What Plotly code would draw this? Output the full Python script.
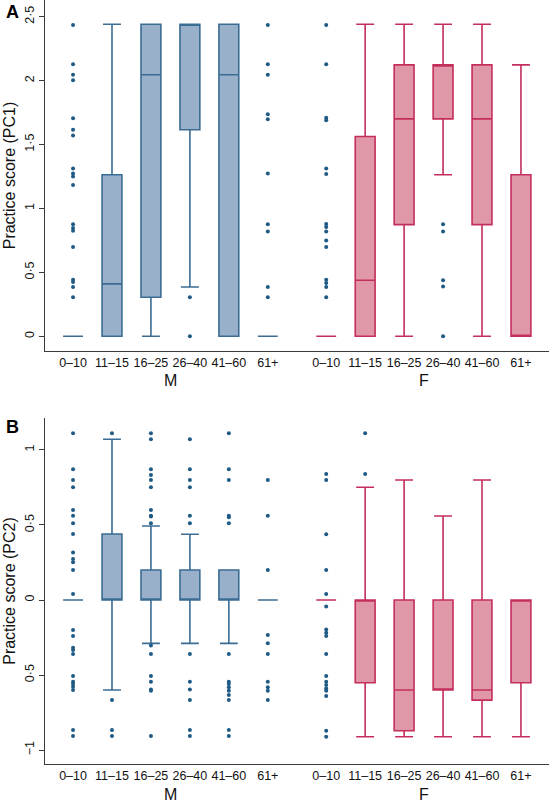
import plotly.graph_objects as go

# ---------------- data ----------------
age_groups = ["0–10", "11–15", "16–25", "26–40", "41–60", "61+"]
sexes = ["M", "F"]
pos_M = [1, 2, 3, 4, 5, 6]
pos_F = [7.5, 8.5, 9.5, 10.5, 11.5, 12.5]

# Panel A: PC1
pc1_M_q1 = [0, 0, 0.305, 1.615, 0, 0]
pc1_M_med = [0, 0.41, 2.045, 2.44, 2.045, 0]
pc1_M_q3 = [0, 1.263, 2.44, 2.44, 2.44, 0]
pc1_M_lo = [0, 0, 0, 0.386, 0, 0]
pc1_M_hi = [0, 2.44, 2.44, 2.44, 2.44, 0]

pc1_F_q1 = [0, 0, 0.873, 1.70, 0.873, 0]
pc1_F_med = [0, 0.438, 1.70, 2.123, 1.70, 0]
pc1_F_q3 = [0, 1.563, 2.123, 2.123, 2.123, 1.263]
pc1_F_lo = [0, 0, 0, 1.263, 0, 0]
pc1_F_hi = [0, 2.44, 2.44, 2.44, 2.44, 2.123]

pc1_M_out = [
    [2.435, 2.128, 2.045, 2.003, 1.706, 1.615, 1.570, 1.313, 1.274, 1.25, 1.183,
     0.877, 0.847, 0.826, 0.698, 0.443, 0.425, 0.386, 0.305],
    [], [], [0.305, 0.0], [],
    [2.435, 2.128, 2.045, 1.737, 1.698, 1.274, 0.877, 0.82, 0.386, 0.305],
]
pc1_F_out = [
    [2.435, 2.128, 1.71, 1.69, 1.313, 1.27, 0.879, 0.854, 0.82, 0.75, 0.698,
     0.443, 0.417, 0.386, 0.305],
    [], [], [0.877, 0.82, 0.438, 0.39, 0.0], [], [],
]

# Panel B: PC2
pc2_M_q1 = [0, 0, 0, 0, 0, 0]
pc2_M_med = [0, 0, 0, 0, 0, 0]
pc2_M_q3 = [0, 0.44, 0.20, 0.20, 0.20, 0]
pc2_M_lo = [0, -0.60, -0.289, -0.289, -0.289, 0]
pc2_M_hi = [0, 1.071, 0.493, 0.438, 0.20, 0]

pc2_F_q1 = [0, -0.551, -0.871, -0.60, -0.667, -0.551]
pc2_F_med = [0, 0, -0.60, -0.60, -0.60, 0]
pc2_F_q3 = [0, 0, 0, 0, 0, 0]
pc2_F_lo = [0, -0.911, -0.911, -0.911, -0.911, -0.911]
pc2_F_hi = [0, 0.751, 0.80, 0.56, 0.80, 0]

pc2_M_out = [
    [1.111, 0.871, 0.80, 0.751, 0.60, 0.562, 0.511, 0.44, 0.316, 0.273, 0.251, 0.20, 0.04,
     -0.20, -0.24, -0.318, -0.333, -0.36, -0.507, -0.544, -0.56, -0.578, -0.60, -0.867, -0.907],
    [1.111, -0.667, -0.867, -0.907],
    [1.111, 1.071, 0.871, 0.833, 0.80, 0.751, 0.60, 0.562, 0.556, 0.511,
     -0.304, -0.36, -0.507, -0.544, -0.596, -0.604, -0.907],
    [1.071, 0.871, 0.80, 0.751, 0.562, 0.511,
     -0.36, -0.544, -0.596, -0.667, -0.867, -0.907],
    [1.111, 0.871, 0.80, 0.562, 0.551, 0.511,
     -0.36, -0.544, -0.56, -0.582, -0.604, -0.633, -0.667, -0.867, -0.907],
    [0.80, 0.562, 0.20, -0.233, -0.289, -0.36, -0.544, -0.582, -0.604, -0.667],
]
pc2_F_out = [
    [0.84, 0.80, 0.438, 0.20, 0.04, -0.044, -0.196, -0.218, -0.24, -0.36,
     -0.507, -0.544, -0.567, -0.589, -0.604, -0.64, -0.871, -0.911],
    [1.111, 0.84], [], [], [], [],
]

pc1_ticks = [0, 0.5, 1, 1.5, 2, 2.5]
pc1_ticktext = ["0", "0·5", "1", "1·5", "2", "2·5"]
pc2_ticks = [-1, -0.5, 0, 0.5, 1]
pc2_ticktext = ["−1", "0·5", "0", "0·5", "1"]

# ---------------- styles ----------------
M_FILL, M_LINE = "#99b0cb", "#3b6c93"
F_FILL, F_LINE = "#e098a9", "#c42e5c"
DOT = "#1f5a85"
AX = "#3a3a3a"
FONT = "Liberation Sans, Arial, sans-serif"

fig = go.Figure()


def add_panel(xa, ya, M, F, outM, outF):
    for pos, st, fill, line in ((pos_M, M, M_FILL, M_LINE), (pos_F, F, F_FILL, F_LINE)):
        q1, med, q3, lo, hi = st
        fig.add_trace(go.Box(
            x=pos, q1=q1, median=med, q3=q3, lowerfence=lo, upperfence=hi,
            boxpoints=False, fillcolor=fill, line=dict(color=line, width=1.6),
            width=0.51, whiskerwidth=0.9, xaxis=xa, yaxis=ya, showlegend=False,
            hoverinfo="skip"))
    xs, ys = [], []
    for pos, outs in ((pos_M, outM), (pos_F, outF)):
        for p, vals in zip(pos, outs):
            xs += [p] * len(vals)
            ys += vals
    fig.add_trace(go.Scatter(x=xs, y=ys, mode="markers", xaxis=xa, yaxis=ya,
                             marker=dict(color=DOT, size=4), showlegend=False,
                             hoverinfo="skip"))


add_panel("x", "y",
          (pc1_M_q1, pc1_M_med, pc1_M_q3, pc1_M_lo, pc1_M_hi),
          (pc1_F_q1, pc1_F_med, pc1_F_q3, pc1_F_lo, pc1_F_hi),
          pc1_M_out, pc1_F_out)
add_panel("x2", "y2",
          (pc2_M_q1, pc2_M_med, pc2_M_q3, pc2_M_lo, pc2_M_hi),
          (pc2_F_q1, pc2_F_med, pc2_F_q3, pc2_F_lo, pc2_F_hi),
          pc2_M_out, pc2_F_out)

H = 805.0
W = 550.0
L, R = 45, 1
PW = W - L - R
xcommon = dict(range=[0.28, 13.22], tickvals=pos_M + pos_F, ticktext=age_groups * 2,
               showline=True, linecolor=AX, linewidth=1.2, ticks="", showgrid=False,
               zeroline=False, tickfont=dict(size=12.5, color="#111"), fixedrange=True)
ycommon = dict(showline=True, linecolor=AX, linewidth=1.2, ticks="outside", ticklen=5,
               tickcolor=AX, showgrid=False, zeroline=False, tickangle=-90,
               tickfont=dict(size=12.5, color="#111"), fixedrange=True)

fig.update_layout(
    width=550, height=805,
    margin=dict(l=L, r=R, t=0, b=0),
    paper_bgcolor="white", plot_bgcolor="white",
    font=dict(family=FONT, color="#111"),
    boxmode="overlay",
    xaxis=dict(**xcommon, anchor="y"),
    yaxis=dict(**ycommon, domain=[1 - 351 / H, 1], range=[-0.115, 2.63],
               tickvals=pc1_ticks, ticktext=pc1_ticktext, anchor="x",
               title=dict(text="Practice score (PC1)", font=dict(size=16), standoff=3)),
    xaxis2=dict(**xcommon, anchor="y2"),
    yaxis2=dict(**ycommon, domain=[1 - 764 / H, 1 - 418 / H], range=[-1.093, 1.213],
                tickvals=pc2_ticks, ticktext=pc2_ticktext, anchor="x2",
                title=dict(text="Practice score (PC2)", font=dict(size=16), standoff=3)),
)

annots = [
    dict(text="<b>A</b>", x=(12 - L) / PW, y=1 - 12 / H),
    dict(text="<b>B</b>", x=(12 - L) / PW, y=1 - 427 / H),
]
for a in annots:
    fig.add_annotation(xref="paper", yref="paper", showarrow=False,
                       font=dict(size=18, color="#000"), xanchor="center", yanchor="middle", **a)

for xa, ypx in (("x", 380), ("x2", 794)):
    for s, xc in zip(sexes, [(pos_M[0] + pos_M[-1]) / 2, (pos_F[0] + pos_F[-1]) / 2]):
        fig.add_annotation(xref=xa, yref="paper", x=xc, y=1 - ypx / H, text=s,
                           showarrow=False, font=dict(size=16, color="#111"),
                           xanchor="center", yanchor="middle")

fig.write_html("out.html", config={"displayModeBar": False, "staticPlot": True},
               post_script="document.body.style.margin='0';document.body.style.overflow='hidden';")
